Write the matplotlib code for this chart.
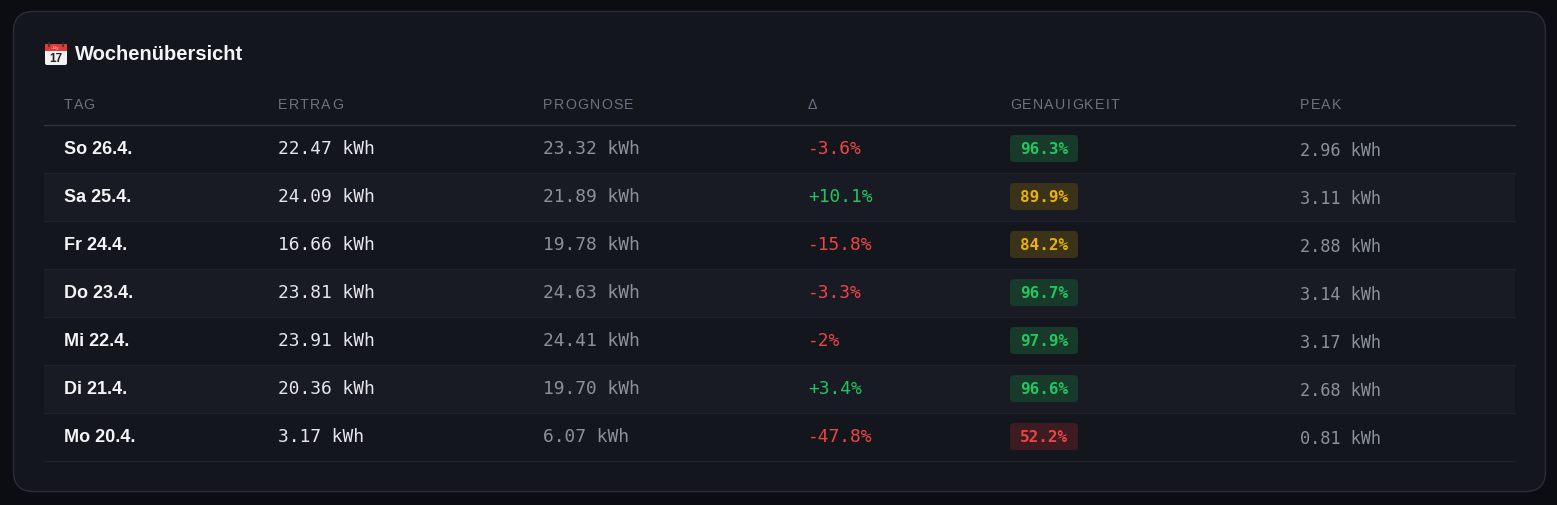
import matplotlib
matplotlib.use("Agg")
import matplotlib.pyplot as plt
from matplotlib.patches import FancyBboxPatch, Rectangle
from matplotlib.font_manager import FontProperties

# Wochenübersicht data
days = ["So 26.4.", "Sa 25.4.", "Fr 24.4.", "Do 23.4.", "Mi 22.4.", "Di 21.4.", "Mo 20.4."]
ertrag = [22.47, 24.09, 16.66, 23.81, 23.91, 20.36, 3.17]
prognose = [23.32, 21.89, 19.78, 24.63, 24.41, 19.70, 6.07]
delta = [-3.6, 10.1, -15.8, -3.3, -2, 3.4, -47.8]
genauigkeit = [96.3, 89.9, 84.2, 96.7, 97.9, 96.6, 52.2]
peak = [2.96, 3.11, 2.88, 3.14, 3.17, 2.68, 0.81]
headers = ["TAG", "ERTRAG", "PROGNOSE", "Δ", "GENAUIGKEIT", "PEAK"]

W, H = 1557, 505
col_x = [64, 278, 543, 808, 1010, 1300]
row_h = 48
row0 = 125

OUTER = "#0b0d12"
CARD = "#13161d"
STRIPE = "#181b23"
BORDER = "#2a2e37"
GREEN, YELLOW, RED = "#22c55e", "#eab308", "#ef4444"
BADGE_BG = {GREEN: "#173a2a", YELLOW: "#3a3319", RED: "#3c1c21"}
MONO = "DejaVu Sans Mono"
SANS = "Liberation Sans"

fig = plt.figure(figsize=(W / 100, H / 100), dpi=100)
fig.patch.set_facecolor(OUTER)
ax = fig.add_axes([0, 0, 1, 1])
ax.set_xlim(0, W)
ax.set_ylim(H, 0)
ax.axis("off")
renderer = fig.canvas.get_renderer()

# card
ax.add_patch(FancyBboxPatch((13.5, 11.5), 1532, 480, boxstyle="round,pad=0,rounding_size=20",
                            facecolor=CARD, edgecolor=BORDER, linewidth=1))

# title + calendar icon
ax.add_patch(FancyBboxPatch((45, 44), 22, 21, boxstyle="round,pad=0,rounding_size=2",
                            facecolor="#f2f2f2", edgecolor="none"))
ax.add_patch(Rectangle((45, 44), 22, 6.5, facecolor="#e53935", edgecolor="none"))
ax.plot([49, 49], [42.5, 46], color="#333", linewidth=1.2)
ax.plot([63, 63], [42.5, 46], color="#333", linewidth=1.2)
ax.text(56, 47.5, "July", fontsize=3, color="white", family=SANS, ha="center", va="center")
ax.text(56, 58.5, "17", fontsize=8.5, color="#222", family=SANS, weight="bold", ha="center", va="center")
ax.text(75, 54.5, "Wochenübersicht", fontsize=14.5, color="#f3f4f6", family=SANS, weight="bold", va="center")


def spaced_text(x, y, s, size, spacing, **kw):
    # css-like letter-spacing: place each char after the width of its prefix
    prop = FontProperties(family=SANS, size=size)
    for k, ch in enumerate(s):
        w = renderer.get_text_width_height_descent(s[:k], prop, ismath=False)[0] if k else 0
        ax.text(x + w + k * spacing, y, ch, fontproperties=prop, **kw)


# header
for x, h in zip(col_x, headers):
    spaced_text(x, 105, h, 10.2, 1.3, color="#6b7280", va="center")
ax.plot([44, 1515], [124.5, 124.5], color="#2e323b", linewidth=1)


def acc_color(v):
    if v >= 95:
        return GREEN
    if v >= 80:
        return YELLOW
    return RED


for i in range(len(days)):
    top = row0 + i * row_h
    yc = top + row_h / 2
    if i % 2 == 1:
        ax.add_patch(Rectangle((44, top), 1471, row_h, facecolor=STRIPE, edgecolor="none"))
    ax.plot([44, 1515], [top + row_h - 0.5] * 2, color="#1f232b", linewidth=1)

    ax.text(col_x[0], yc, days[i], fontsize=13, color="#f3f4f6", family=SANS, weight="bold", va="center")
    ax.text(col_x[1], yc + 0.5, f"{ertrag[i]:.2f} kWh", fontsize=12.9, color="#e5e7eb", family=MONO, va="center")
    ax.text(col_x[2], yc + 0.5, f"{prognose[i]:.2f} kWh", fontsize=12.9, color="#8b919b", family=MONO, va="center")
    ax.text(col_x[3], yc + 0.5, f"{delta[i]:+g}%", fontsize=12.9, color=GREEN if delta[i] > 0 else RED,
            family=MONO, va="center")

    c = acc_color(genauigkeit[i])
    ax.add_patch(FancyBboxPatch((col_x[4], yc - 14), 68, 27, boxstyle="round,pad=0,rounding_size=4",
                                facecolor=BADGE_BG[c], edgecolor="none"))
    ax.text(col_x[4] + 34, yc + 0.5, f"{genauigkeit[i]:.1f}%", fontsize=11.5, color=c, family=MONO,
            weight="bold", ha="center", va="center")

    ax.text(col_x[5], yc + 1.5, f"{peak[i]:.2f} kWh", fontsize=12.2, color="#8b919b", family=MONO, va="center")

fig.savefig("out.png", dpi=100, facecolor=OUTER)
